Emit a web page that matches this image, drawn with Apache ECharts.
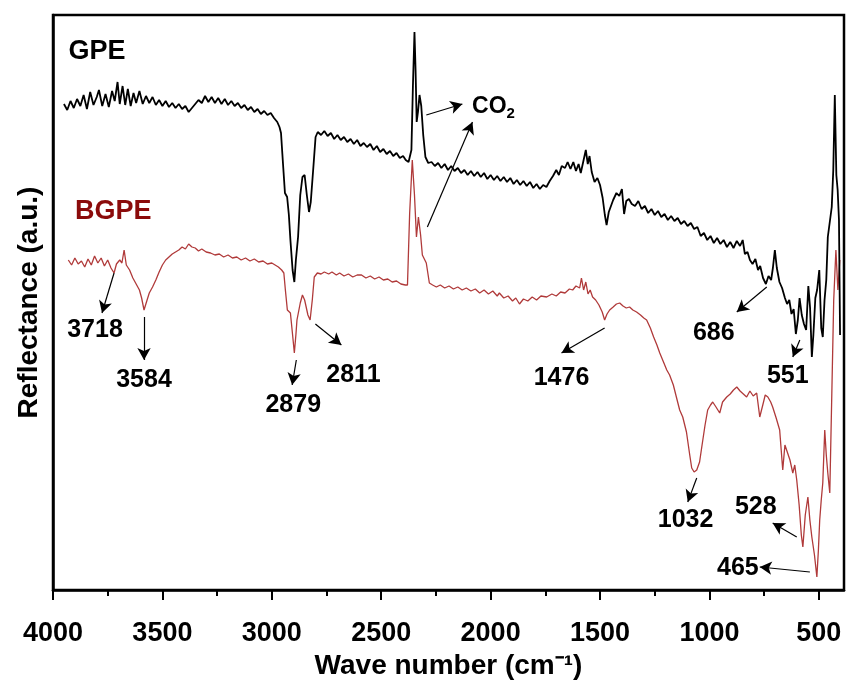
<!DOCTYPE html>
<html><head><meta charset="utf-8">
<script src="https://cdn.jsdelivr.net/npm/echarts@6/dist/echarts.min.js"></script>
<style>html,body{margin:0;padding:0;background:#fff}#c{width:847px;height:686px}</style>
</head><body><div id="c"></div>
<script>
// x: wave number (cm-1), y: reflectance (a.u.)
const xTicks = [4000,3500,3000,2500,2000,1500,1000,500];
const xMinorTicks = [3750,3250,2750,2250,1750,1250,750];

const gpe = [
[3950,486],[3935,480],[3920,489],[3905,482],[3890,491],[3875,484],[3860,495],[3845,481],[3830,498],[3815,485],
[3800,493],[3790,500],[3775,484],[3760,496],[3745,483],[3730,499],[3718,489],[3705,508],[3695,486],[3682,504],
[3670,485],[3658,501],[3645,484],[3632,497],[3620,487],[3605,499],[3590,486],[3575,494],[3560,487],[3545,493],
[3530,485],[3515,490],[3500,484],[3485,489],[3470,483],[3455,487],[3440,482],[3425,486],[3410,481],[3395,484],
[3380,478],[3365,482],[3350,486],[3335,490],[3320,487],[3305,494],[3290,488],[3275,493],[3260,487],[3245,492],
[3230,486],[3215,491],[3200,485],[3185,489],[3170,484],[3155,487],[3140,482],[3125,485],[3110,480],[3095,483],
[3080,478],[3065,481],[3050,476],[3035,479],[3020,475],[3005,477],[2990,472],[2975,468],[2965,463],[2958,457],
[2950,430],[2940,397],[2930,393],[2922,375],[2915,350],[2905,320],[2897,308],[2890,330],[2880,353],[2870,395],
[2860,413],[2850,415],[2840,395],[2830,378],[2822,388],[2810,423],[2800,453],[2790,458],[2775,455],[2760,459],
[2745,454],[2730,457],[2715,451],[2700,455],[2685,450],[2670,453],[2655,448],[2640,451],[2625,446],[2610,450],
[2595,444],[2580,447],[2565,443],[2550,446],[2535,440],[2520,444],[2505,438],[2490,441],[2475,436],[2460,439],
[2445,434],[2430,437],[2415,432],[2400,434],[2388,430],[2375,428],[2362,440],[2355,505],[2348,558],[2343,520],
[2338,468],[2332,478],[2325,495],[2317,484],[2308,455],[2298,433],[2285,427],[2270,428],[2255,424],[2240,427],
[2225,422],[2210,426],[2195,420],[2180,424],[2165,419],[2150,422],[2135,417],[2120,420],[2105,415],[2090,419],
[2075,414],[2060,418],[2045,413],[2030,417],[2015,411],[2000,415],[1985,410],[1970,414],[1955,409],[1940,413],
[1925,408],[1910,412],[1895,406],[1880,410],[1865,405],[1850,409],[1835,404],[1820,408],[1805,402],[1790,406],
[1775,401],[1760,405],[1745,403],[1730,409],[1715,414],[1700,420],[1688,415],[1675,424],[1660,422],[1648,428],
[1635,421],[1622,428],[1610,419],[1598,426],[1588,417],[1575,430],[1565,440],[1556,426],[1548,434],[1538,418],
[1525,408],[1512,412],[1500,405],[1488,392],[1478,375],[1470,365],[1460,378],[1450,384],[1440,390],[1425,397],
[1412,394],[1400,401],[1390,376],[1380,389],[1368,391],[1355,386],[1340,384],[1325,389],[1310,381],[1295,384],
[1280,377],[1265,381],[1250,375],[1235,379],[1220,373],[1205,376],[1190,370],[1175,374],[1160,369],[1145,372],
[1130,366],[1115,369],[1100,364],[1085,367],[1070,361],[1055,363],[1040,354],[1025,357],[1010,350],[995,354],
[980,347],[965,352],[950,346],[935,350],[920,343],[905,348],[890,342],[875,349],[860,344],[848,350],[838,336],
[826,338],[815,330],[803,326],[790,331],[778,320],[768,324],[755,312],[742,306],[730,314],[718,310],[710,322],
[701,340],[692,322],[680,308],[668,302],[655,292],[645,286],[635,290],[625,276],[615,281],[605,256],[596,270],
[588,292],[578,275],[568,266],[558,260],[548,304],[540,282],[532,233],[525,255],[516,292],[508,300],[498,320],
[489,262],[482,253],[474,290],[466,310],[459,353],[450,368],[441,383],[434,420],[427,495],[420,415],[414,400],
[408,370],[403,255]
];

const bgpe = [
[3930,330],[3915,325],[3900,332],[3885,326],[3870,329],[3855,323],[3840,331],[3825,325],[3810,334],[3795,327],
[3780,332],[3765,324],[3750,330],[3735,322],[3721,317],[3710,326],[3695,330],[3685,327],[3675,340],[3665,325],
[3650,320],[3635,312],[3620,306],[3605,300],[3595,292],[3584,280],[3570,290],[3560,297],[3545,303],[3530,310],
[3515,318],[3500,325],[3485,330],[3470,333],[3455,336],[3440,338],[3425,340],[3410,343],[3395,341],[3380,346],
[3365,343],[3350,342],[3335,339],[3320,341],[3300,338],[3280,337],[3260,335],[3240,336],[3220,333],[3200,335],
[3180,332],[3160,333],[3140,330],[3120,332],[3100,329],[3080,331],[3060,328],[3040,329],[3020,326],[3000,327],
[2985,325],[2970,323],[2955,320],[2945,317],[2938,300],[2929,280],[2915,277],[2905,255],[2897,237],[2890,255],
[2885,270],[2870,287],[2860,295],[2850,290],[2835,275],[2825,270],[2815,290],[2806,313],[2792,317],[2775,316],
[2760,318],[2740,316],[2725,318],[2705,315],[2690,317],[2670,314],[2650,316],[2630,313],[2610,315],[2590,315],
[2570,312],[2550,314],[2530,311],[2510,313],[2490,310],[2470,311],[2450,308],[2430,309],[2410,306],[2390,305],
[2380,305],[2370,377],[2358,430],[2348,395],[2339,353],[2330,373],[2320,355],[2312,335],[2294,327],[2280,307],
[2265,305],[2248,303],[2230,305],[2210,302],[2190,304],[2170,301],[2150,303],[2130,300],[2111,302],[2090,299],
[2070,301],[2050,297],[2030,300],[2010,296],[1990,299],[1970,294],[1960,297],[1940,292],[1920,294],[1900,289],
[1885,292],[1868,286],[1850,291],[1830,289],[1810,293],[1790,290],[1770,294],[1744,293],[1720,296],[1700,294],
[1680,298],[1660,297],[1640,301],[1625,300],[1610,304],[1593,302],[1585,312],[1575,300],[1565,308],[1555,296],
[1545,300],[1534,293],[1520,290],[1505,285],[1490,278],[1479,270],[1468,276],[1456,280],[1440,283],[1425,286],
[1410,287],[1395,284],[1380,282],[1365,283],[1350,280],[1333,278],[1315,275],[1300,272],[1287,270],[1270,262],
[1255,253],[1240,245],[1227,237],[1210,228],[1195,220],[1182,215],[1165,205],[1150,192],[1136,180],[1122,173],
[1105,158],[1090,135],[1081,122],[1070,118],[1058,120],[1045,128],[1035,143],[1020,165],[1008,180],[995,185],
[985,188],[970,183],[953,177],[940,188],[921,193],[905,196],[890,200],[875,203],[860,199],[845,196],
[830,193],[815,199],[800,194],[784,197],[770,173],[755,186],[745,195],[733,193],[720,188],[711,183],
[695,172],[679,160],[665,120],[655,145],[646,147],[632,130],[619,117],[610,125],[601,110],[590,85],
[580,55],[573,43],[562,75],[550,93],[541,70],[532,53],[520,35],[509,13],[502,40],[496,70],
[489,90],[482,107],[473,160],[466,135],[459,117],[450,97],[441,193],[432,290],[422,340],[413,300],[404,330]
];

// annotation text: [text, wave number, reflectance, colour]
const peakLabels = [
['3718',3808,260],['3584',3584,210],['2879',2902,185],['2811',2627,215],['1476',1676,212],
['686',980,257],['551',642,214],['1032',1109,70],['528',788,83],['465',870,22]
];
const co2Label = ['{a|CO}{b|2}',1987,483];
const sampleLabels = [['GPE',3799,538,'#000000'],['BGPE',3725,378,'#8b0b0b']];
// arrows: [from wn, from y, to wn, to y]
const arrows = [
[3721,317,3776,277],[3584,273,3584,230],[2888,230,2907,205],[2801,266,2682,245],[1479,262,1676,237],
[738,303,875,278],[587,250,619,233],[1058,112,1099,88],[601,53,711,67],[541,18,770,23],
[2294,475,2129,486],[2289,363,2083,468]
];

const FONT = 'Liberation Sans, Arial, sans-serif';
const chart = echarts.init(document.getElementById('c'));

chart.setOption({
  animation: false,
  grid: {left: 53, right: 3, top: 15, bottom: 96, show: true, borderColor: '#000', borderWidth: 2.5},
  xAxis: [{
    type: 'value', inverse: true, min: 385, max: 4000,
    axisLine: {show: true, onZero: false, lineStyle: {color: '#000', width: 2.5}},
    axisTick: {show: true, inside: false, length: 10, lineStyle: {color: '#000', width: 2}, customValues: xTicks},
    axisLabel: {show: true, customValues: xTicks, margin: 30, color: '#000', fontSize: 27, fontWeight: 'bold', fontFamily: FONT,
      formatter: v => String(v)},
    splitLine: {show: false},
    name: 'Wave number (cm\u207B\u00B9)', nameLocation: 'middle', nameGap: 62,
    nameTextStyle: {color: '#000', fontSize: 28, fontWeight: 'bold', fontFamily: FONT}
  }, {
    type: 'value', inverse: true, min: 385, max: 4000, position: 'bottom',
    axisLine: {show: false},
    axisTick: {show: true, length: 6, lineStyle: {color: '#000', width: 2}, customValues: xMinorTicks},
    axisLabel: {show: false}, splitLine: {show: false}
  }],
  yAxis: {
    type: 'value', min: 0, max: 575,
    axisLine: {show: true, lineStyle: {color: '#000', width: 2.5}},
    axisTick: {show: false}, axisLabel: {show: false}, splitLine: {show: false},
    name: 'Reflectance (a.u.)', nameLocation: 'middle', nameGap: 10, nameRotate: 90,
    nameTextStyle: {color: '#000', fontSize: 28, fontWeight: 'bold', fontFamily: FONT}
  },
  series: [
    {type: 'line', name: 'BGPE', data: bgpe, showSymbol: false, symbol: 'none',
     lineStyle: {color: '#b03a3a', width: 1.3}, z: 2},
    {type: 'line', name: 'GPE', data: gpe, showSymbol: false, symbol: 'none',
     lineStyle: {color: '#000', width: 1.8}, z: 3},
    {type: 'line', name: 'arrows', data: [], z: 4,
     markLine: {silent: true, symbol: ['none', 'arrow'], symbolSize: [10, 12], animation: false,
       label: {show: false}, lineStyle: {color: '#000', width: 1.2, type: 'solid'},
       data: arrows.map(a => [{coord: [a[0], a[1]]}, {coord: [a[2], a[3]]}])}}
  ]
});

const px = (wn, v) => chart.convertToPixel({xAxisIndex: 0, yAxisIndex: 0}, [wn, v]);
const texts = [];
peakLabels.forEach(d => {
  const p = px(d[1], d[2]);
  texts.push({type: 'text', x: p[0], y: p[1], z: 100, silent: true,
    style: {text: d[0], fill: '#000', font: 'bold 25px ' + FONT, align: 'center', verticalAlign: 'middle'}});
});
sampleLabels.forEach(d => {
  const p = px(d[1], d[2]);
  texts.push({type: 'text', x: p[0], y: p[1], z: 100, silent: true,
    style: {text: d[0], fill: d[3], font: 'bold 27px ' + FONT, align: 'center', verticalAlign: 'middle'}});
});
{
  const p = px(co2Label[1], co2Label[2]);
  texts.push({type: 'text', x: p[0], y: p[1], z: 100, silent: true,
    style: {text: co2Label[0], align: 'center', verticalAlign: 'middle', fill: '#000',
      rich: {a: {font: 'bold 23px ' + FONT, fill: '#000'},
             b: {font: 'bold 15px ' + FONT, fill: '#000', padding: [14, 0, 0, 0]}}}});
}
chart.setOption({graphic: texts});
</script></body></html>
